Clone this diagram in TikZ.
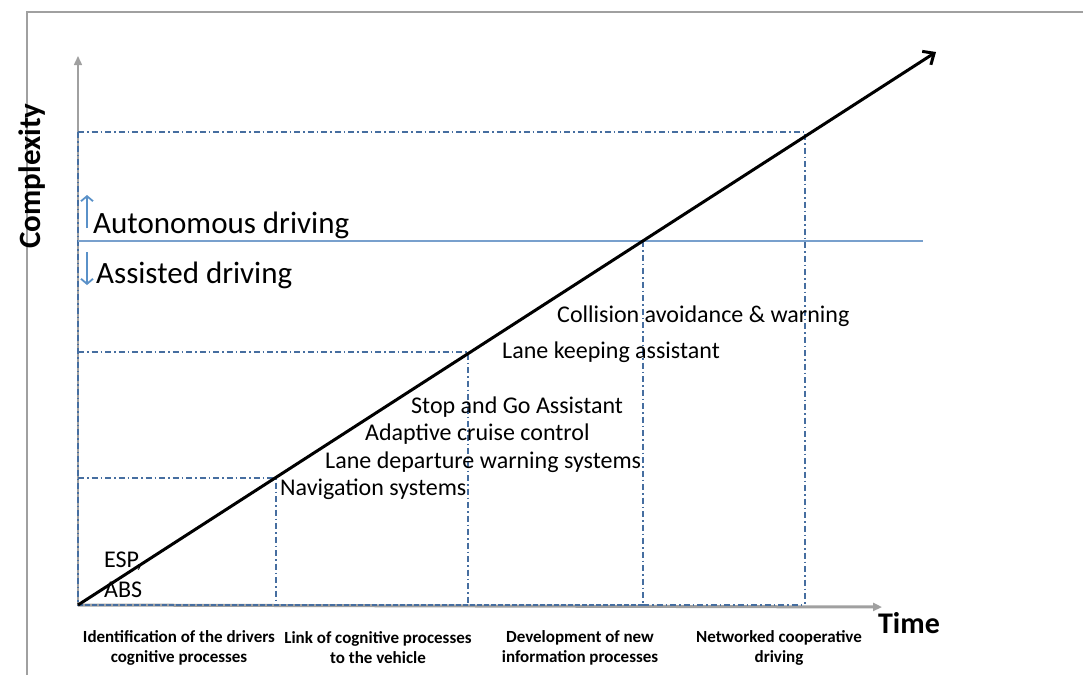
\documentclass[tikz,border=0pt]{standalone}
\usepackage{fontspec}
\setmainfont{Carlito}
\usetikzlibrary{arrows.meta}
\definecolor{gridblue}{RGB}{70,110,160}
\definecolor{lightblue}{RGB}{120,160,205}
\definecolor{arrblue}{RGB}{90,145,200}
\definecolor{axisgray}{RGB}{160,160,160}
\tikzset{
  dd/.style={gridblue, line width=1.1pt, dash pattern=on 6pt off 3pt on 1.5pt off 3pt},
  item/.style={anchor=west, inner sep=0pt, font=\fontsize{24}{26}\selectfont},
  big/.style={anchor=west, inner sep=0pt, font=\fontsize{31}{34}\selectfont},
  phase/.style={align=center, inner sep=0pt, font=\bfseries\fontsize{17}{20}\selectfont},
  axis/.style={axisgray, -{Triangle[length=9pt,width=8pt]}},
  bluearrow/.style={arrblue, line width=1.8pt, -{Straight Barb[length=5pt,width=12pt,line width=1.8pt]}},
}
\begin{document}
\begin{tikzpicture}[x=1pt,y=-1pt]
\useasboundingbox (0,0) rectangle (1083,675);
% frame
\draw[axisgray, line width=1.2pt] (27,675) -- (27,12) -- (1083,12);
% coordinates
\coordinate (O) at (78,605);
\coordinate (ytop) at (78,56);
\coordinate (xend) at (882,607);
\coordinate (tip) at (936,52);
% dash-dot grid
\coordinate (h1l) at (78,132); \coordinate (h1r) at (805,132); \coordinate (v1b) at (805,605);
\coordinate (h3l) at (78,352); \coordinate (h3r) at (468,352); \coordinate (v3b) at (468,605);
\coordinate (h4l) at (78,478); \coordinate (h4r) at (276,478); \coordinate (v4b) at (276,605);
\coordinate (h2l) at (78,241); \coordinate (h2r) at (923,241);
\coordinate (v2t) at (643,241); \coordinate (v2b) at (643,605);
% axes
\draw[axis, line width=1.5pt] (O) -- (ytop);
\draw[axis, line width=3pt] (O) -- (xend);
\draw[dd] (h1l) -- (h1r) -- (v1b);
\draw[dd] (h3l) -- (h3r) -- (v3b);
\draw[dd] (h4l) -- (h4r) -- (v4b);
\draw[dd] (v2t) -- (v2b);
\draw[dd] (h1l) -- (O);
\draw[dd] (v2b) -- (v1b);
\draw[gridblue, line width=1.2pt, dash pattern=on 5pt off 2pt] (O) -- (v2b);
\draw[lightblue, line width=1.2pt] (h2l) -- (h2r);
% main arrow
\draw[line width=3pt, -{Straight Barb[length=9pt,width=16pt,line width=3pt]}] (O) -- (tip);
% blue arrows
\coordinate (ua) at (87,228); \coordinate (ub) at (87,195);
\coordinate (da) at (87,252); \coordinate (db) at (87,285);
\draw[bluearrow] (ua) -- (ub);
\draw[bluearrow] (da) -- (db);
% texts
\node[rotate=90, font=\bfseries\fontsize{31}{33}\selectfont, inner sep=0pt] (cx) at (32,176) {Complexity};
\node[font=\bfseries\fontsize{30}{32}\selectfont, inner sep=0pt] (tm) at (909,623) {Time};
\node[big] (aut) at (93,225) {Autonomous driving};
\node[big] (ass) at (96,275) {Assisted driving};
\node[item] (t1) at (557,316) {Collision avoidance \& warning};
\node[item] (t2) at (502,352) {Lane keeping assistant};
\node[item] (t3) at (411,407) {Stop and Go Assistant};
\node[item] (t4) at (365,434) {Adaptive cruise control};
\node[item] (t5) at (325,462) {Lane departure warning systems};
\node[item] (t6) at (280,489) {Navigation systems};
\node[item] (t7) at (104,561) {ESP,};
\node[item] (t8) at (104,590) {ABS};
\node[phase] (p1) at (179,648) {Identification of the drivers\\cognitive processes};
\node[phase] (p2) at (378,648) {Link of cognitive processes\\to the vehicle};
\node[phase] (p3) at (580,648) {Development of new\\information processes};
\node[phase] (p4) at (779,648) {Networked cooperative\\driving};
\end{tikzpicture}
\end{document}
